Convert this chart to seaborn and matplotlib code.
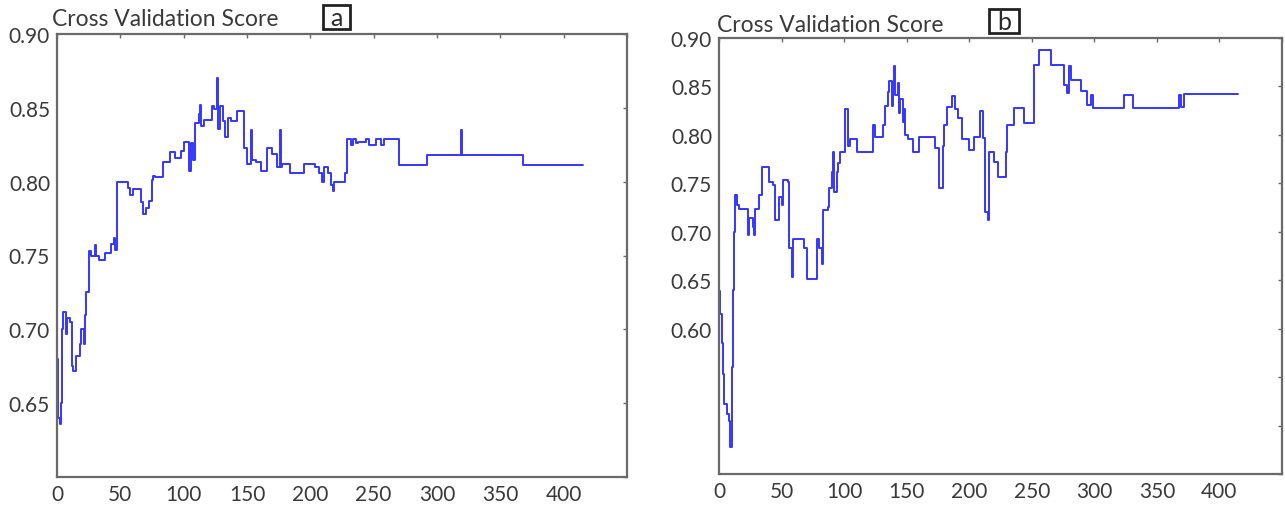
import matplotlib
matplotlib.use("Agg")
import matplotlib.pyplot as plt
from matplotlib.patches import Rectangle
import seaborn as sns
import pandas as pd

# ---- data: step start positions (feature count) and CV score ----
a_x = [0, 1, 2, 3, 4, 5, 7, 8, 10, 12, 13, 15, 18, 19, 21, 22, 23, 25, 27, 30, 31, 33,
       38, 43, 45, 46, 47, 56, 58, 60, 66, 68, 70, 73, 75, 76, 77, 84, 89, 93, 98, 100,
       104, 106, 107, 109, 112, 113, 114, 116, 122, 124, 126, 127, 129, 131, 133, 135,
       137, 142, 148, 150, 153, 154, 157, 161, 166, 170, 174, 176, 177, 178, 184, 195,
       204, 207, 209, 211, 214, 216, 218, 219, 227, 229, 232, 234, 236, 238, 244, 246,
       252, 256, 258, 270, 292, 319, 320, 368, 415]
a_y = [0.680, 0.640, 0.636, 0.650, 0.700, 0.712, 0.697, 0.708, 0.705, 0.675, 0.672,
       0.682, 0.690, 0.700, 0.690, 0.710, 0.725, 0.753, 0.750, 0.757, 0.750, 0.747,
       0.752, 0.758, 0.762, 0.754, 0.800, 0.796, 0.791, 0.795, 0.786, 0.778, 0.782,
       0.787, 0.801, 0.804, 0.803, 0.813, 0.820, 0.816, 0.821, 0.827, 0.807, 0.826,
       0.815, 0.840, 0.846, 0.852, 0.838, 0.842, 0.851, 0.849, 0.870, 0.836, 0.851,
       0.841, 0.830, 0.843, 0.841, 0.848, 0.823, 0.812, 0.835, 0.815, 0.813, 0.807,
       0.823, 0.819, 0.810, 0.835, 0.810, 0.812, 0.806, 0.812, 0.810, 0.806, 0.800,
       0.810, 0.806, 0.798, 0.794, 0.800, 0.806, 0.829, 0.825, 0.829, 0.826, 0.827,
       0.829, 0.825, 0.829, 0.825, 0.829, 0.811, 0.818, 0.835, 0.818, 0.811, 0.811]

b_x = [0, 1, 2, 3, 4, 6, 8, 9, 10, 11, 12, 13, 14, 16, 23, 24, 27, 28, 29, 32, 34, 40,
       43, 45, 48, 50, 51, 55, 56, 58, 59, 68, 70, 78, 80, 82, 83, 87, 88, 90, 91, 92,
       94, 95, 97, 101, 103, 105, 110, 123, 125, 131, 133, 135, 136, 138, 139, 140, 141,
       143, 144, 145, 147, 148, 149, 151, 155, 160, 173, 176, 179, 180, 182, 186, 189,
       191, 194, 200, 204, 209, 211, 213, 215, 216, 220, 223, 229, 230, 236, 244, 252,
       256, 265, 276, 278, 280, 281, 289, 294, 297, 299, 324, 331, 368, 369, 372, 415]
b_y = [0.639, 0.615, 0.585, 0.553, 0.522, 0.512, 0.505, 0.478, 0.560, 0.640, 0.700,
       0.738, 0.728, 0.724, 0.697, 0.714, 0.705, 0.697, 0.724, 0.738, 0.767, 0.751,
       0.748, 0.712, 0.736, 0.728, 0.753, 0.751, 0.683, 0.653, 0.693, 0.683, 0.651,
       0.693, 0.683, 0.667, 0.722, 0.726, 0.745, 0.762, 0.782, 0.741, 0.762, 0.771,
       0.782, 0.827, 0.789, 0.796, 0.782, 0.810, 0.798, 0.810, 0.830, 0.844, 0.856,
       0.830, 0.854, 0.871, 0.841, 0.854, 0.823, 0.837, 0.813, 0.827, 0.800, 0.796,
       0.782, 0.798, 0.786, 0.745, 0.789, 0.810, 0.829, 0.840, 0.827, 0.817, 0.796,
       0.784, 0.798, 0.825, 0.797, 0.720, 0.712, 0.782, 0.772, 0.757, 0.782, 0.810,
       0.828, 0.812, 0.872, 0.888, 0.872, 0.852, 0.843, 0.871, 0.857, 0.845, 0.831,
       0.841, 0.828, 0.841, 0.828, 0.841, 0.829, 0.842, 0.842]

x_ticks = [0, 50, 100, 150, 200, 250, 300, 350, 400, 450]
x_labels = ["0", "50", "100", "150", "200", "250", "300", "350", "400", ""]
a_yticks = [0.60, 0.65, 0.70, 0.75, 0.80, 0.85, 0.90]
a_ylabels = ["", "0.65", "0.70", "0.75", "0.80", "0.85", "0.90"]
b_yticks = [0.45, 0.50, 0.55, 0.60, 0.65, 0.70, 0.75, 0.80, 0.85, 0.90]
b_ylabels = ["", "", "", "0.60", "0.65", "0.70", "0.75", "0.80", "0.85", "0.90"]
title_text = "Cross Validation Score"

sns.set_style("white")
plt.rcParams["font.family"] = ["Lato", "DejaVu Sans"]

W, H = 1285, 506
fig = plt.figure(figsize=(W / 100, H / 100), dpi=100)
ax1 = fig.add_axes([57 / W, (H - 478) / H, 570 / W, 443 / H])
ax2 = fig.add_axes([719 / W, (H - 475) / H, 563 / W, 436 / H])

line_color = "#3636ff"
frame_color = "#6a6a6a"
text_color = "#3a3a3a"

specs = [
    (ax1, a_x, a_y, (0.60, 0.90), a_yticks, a_ylabels),
    (ax2, b_x, b_y, (0.45, 0.90), b_yticks, b_ylabels),
]
for ax, xs, ys, ylim, yt, yl in specs:
    df = pd.DataFrame({"n": xs, "score": ys})
    sns.lineplot(data=df, x="n", y="score", ax=ax, estimator=None, sort=False,
                 color=line_color, linewidth=1.4, drawstyle="steps-post")
    ax.set_xlim(0, 450)
    ax.set_ylim(*ylim)
    ax.set_xticks(x_ticks)
    ax.set_xticklabels(x_labels)
    ax.set_yticks(yt)
    ax.set_yticklabels(yl)
    ax.set_xlabel("")
    ax.set_ylabel("")
    ax.tick_params(direction="in", length=3, width=1, color=frame_color,
                   top=True, right=True, labelsize=15, labelcolor=text_color,
                   pad=5)
    for s in ax.spines.values():
        s.set_visible(True)
        s.set_color(frame_color)
        s.set_linewidth(1.6)

# titles and boxed panel letters (positions in pixels -> figure fraction)
def box_letter(letter, x0, y0, x1, y1):
    fig.patches.append(Rectangle((x0 / W, 1 - y1 / H), (x1 - x0) / W, (y1 - y0) / H,
                                 transform=fig.transFigure, fill=False,
                                 ec="#222222", lw=2.0))
    fig.text((x0 + x1) / 2 / W, 1 - ((y0 + y1) / 2 + 1) / H, letter, ha="center",
             va="center", fontsize=18, color="#2a2a2a")

fig.text(52 / W, 1 - 20 / H, title_text, ha="left", va="center",
         fontsize=16.5, color=text_color)
box_letter("a", 323, 6, 350, 30)
fig.text(717 / W, 1 - 25 / H, title_text, ha="left", va="center",
         fontsize=16.5, color=text_color)
box_letter("b", 989, 10, 1019, 34)

fig.savefig("out.png", dpi=100)
